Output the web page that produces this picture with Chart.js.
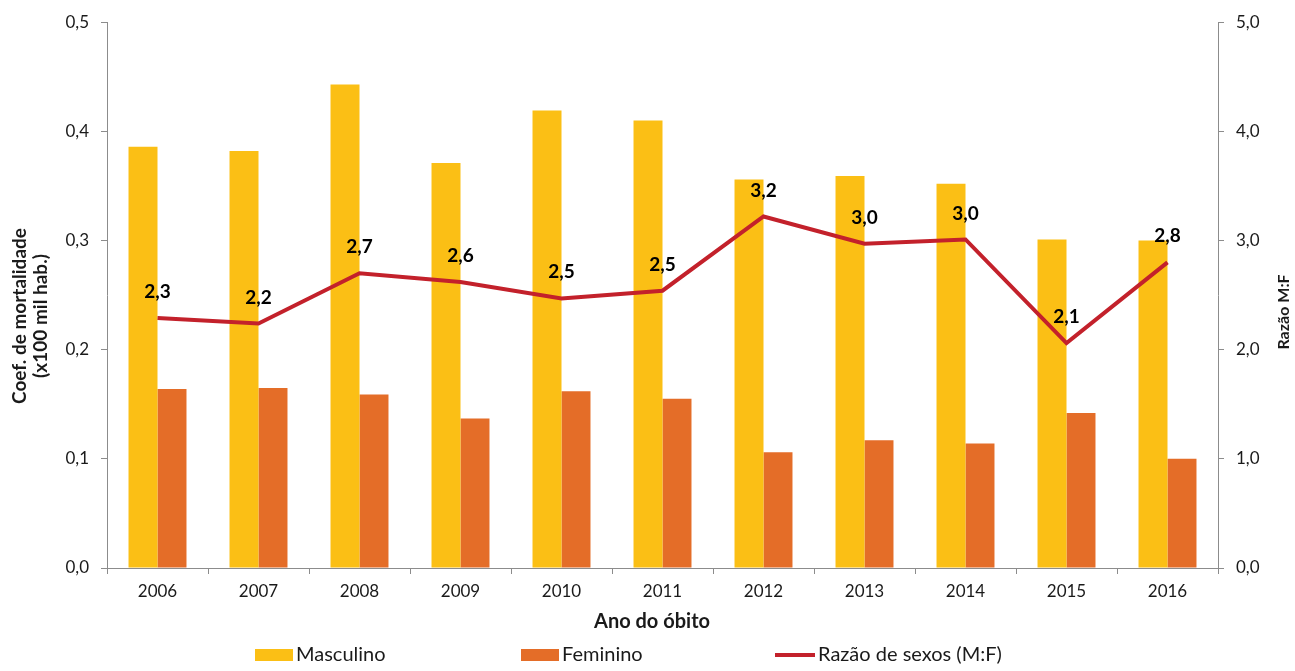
<!DOCTYPE html>
<html><head><meta charset="utf-8">
<script src="https://cdn.jsdelivr.net/npm/chart.js@4/dist/chart.umd.min.js"></script>
<style>html,body{margin:0;padding:0;background:#fff;overflow:hidden}#wrap{width:1295px;height:671px;position:relative}</style>
</head><body><div id="wrap"><canvas id="c" width="1295" height="671"></canvas></div>
<script>
const categories = ['2006','2007','2008','2009','2010','2011','2012','2013','2014','2015','2016'];
const masculino = [0.386, 0.382, 0.443, 0.371, 0.419, 0.410, 0.356, 0.359, 0.352, 0.301, 0.300];
const feminino  = [0.164, 0.165, 0.159, 0.137, 0.162, 0.155, 0.106, 0.117, 0.114, 0.142, 0.100];
const razao     = [2.29, 2.24, 2.70, 2.62, 2.47, 2.54, 3.22, 2.97, 3.01, 2.06, 2.80];
const seriesNames = ['Masculino', 'Feminino', 'Razão de sexos (M:F)'];
const leftAxis = {min: 0, max: 0.5, step: 0.1, title: ['Coef. de mortalidade', '(x100 mil hab.)']};
const rightAxis = {min: 0, max: 5, step: 1, title: 'Razão M:F'};
const xTitle = 'Ano do óbito';

const COLORS = {masc: '#FBBF15', fem: '#E46D28', line: '#C3212B', axis: '#8C8C8C', text: '#1a1a1a'};
const FONT = 'Lato';
const fmt = v => Number(v).toFixed(1).replace('.', ',');

const extras = {
  id: 'extras',
  afterDatasetsDraw(chart) {
    const ctx = chart.ctx;
    const meta = chart.getDatasetMeta(2);
    ctx.save();
    ctx.font = 'bold 19px ' + FONT;
    ctx.fillStyle = '#000';
    ctx.textAlign = 'center';
    ctx.textBaseline = 'middle';
    meta.data.forEach((pt, i) => {
      ctx.fillText(fmt(razao[i]), pt.x, pt.y - 26);
    });
    ctx.restore();
  },
  afterDraw(chart) {
    const ctx = chart.ctx;
    const area = chart.chartArea;
    ctx.save();
    ctx.fillStyle = COLORS.text;
    ctx.textAlign = 'center';
    ctx.textBaseline = 'middle';
    // left title
    ctx.font = 'bold 19px ' + FONT;
    ctx.save();
    ctx.translate(20, 316);
    ctx.rotate(-Math.PI / 2);
    ctx.fillText(leftAxis.title[0], 0, 0);
    ctx.fillText(leftAxis.title[1], 0, 21);
    ctx.restore();
    // right title
    ctx.font = 'bold 16px ' + FONT;
    ctx.save();
    ctx.translate(1284, 312);
    ctx.rotate(-Math.PI / 2);
    ctx.fillText(rightAxis.title, 0, 0);
    ctx.restore();
    // x title
    ctx.font = 'bold 20px ' + FONT;
    ctx.fillText(xTitle, 652, 622);
    // legend
    ctx.font = '20px ' + FONT;
    ctx.textAlign = 'left';
    const ly = 655;
    const items = [
      {t: seriesNames[0], c: COLORS.masc, type: 'box', x: 255},
      {t: seriesNames[1], c: COLORS.fem, type: 'box', x: 521},
      {t: seriesNames[2], c: COLORS.line, type: 'line', x: 775}
    ];
    items.forEach(it => {
      const x = it.x;
      if (it.type === 'box') {
        ctx.fillStyle = it.c;
        ctx.fillRect(x, ly - 6, 38, 12);
      } else {
        ctx.strokeStyle = it.c;
        ctx.lineWidth = 4;
        ctx.beginPath();
        ctx.moveTo(x, ly);
        ctx.lineTo(x + 40, ly);
        ctx.stroke();
      }
      ctx.fillStyle = COLORS.text;
      ctx.fillText(it.t, x + (it.type === 'box' ? 41 : 43), ly);
    });
    ctx.restore();
  }
};

new Chart(document.getElementById('c'), {
  type: 'bar',
  data: {
    labels: categories,
    datasets: [
      {label: seriesNames[0], data: masculino, backgroundColor: COLORS.masc, yAxisID: 'y', order: 1,
       categoryPercentage: 0.574, barPercentage: 1.0},
      {label: seriesNames[1], data: feminino, backgroundColor: COLORS.fem, yAxisID: 'y', order: 2,
       categoryPercentage: 0.574, barPercentage: 1.0},
      {label: seriesNames[2], type: 'line', data: razao, yAxisID: 'y2', order: 0,
       borderColor: COLORS.line, borderWidth: 4, pointRadius: 0, tension: 0, fill: false}
    ]
  },
  options: {
    responsive: false,
    animation: false,
    devicePixelRatio: 1,
    layout: {padding: {top: 19, left: 0, right: 0, bottom: 0}},
    plugins: {legend: {display: false}, tooltip: {enabled: false}, title: {display: false}},
    scales: {
      x: {
        type: 'category', offset: true,
        grid: {offset: true, drawOnChartArea: false, drawTicks: true, tickLength: 6, color: COLORS.axis},
        border: {display: true, color: COLORS.axis, width: 1},
        ticks: {font: {family: FONT, size: 17}, color: COLORS.text, padding: 7, maxRotation: 0},
        afterFit: s => { s.height = 103; }
      },
      y: {
        position: 'left', min: leftAxis.min, max: leftAxis.max,
        grid: {drawOnChartArea: false, drawTicks: true, tickLength: 6, color: COLORS.axis},
        border: {display: true, color: COLORS.axis, width: 1},
        ticks: {stepSize: leftAxis.step, callback: v => fmt(v), font: {family: FONT, size: 17}, color: COLORS.text, padding: 12},
        afterFit: s => { s.width = 107; }
      },
      y2: {
        position: 'right', min: rightAxis.min, max: rightAxis.max,
        grid: {drawOnChartArea: false, drawTicks: true, tickLength: 6, color: COLORS.axis},
        border: {display: true, color: COLORS.axis, width: 1},
        ticks: {stepSize: rightAxis.step, callback: v => fmt(v), font: {family: FONT, size: 17}, color: COLORS.text, padding: 12},
        afterFit: s => { s.width = 77; }
      }
    }
  },
  plugins: [extras]
});
</script></body></html>
